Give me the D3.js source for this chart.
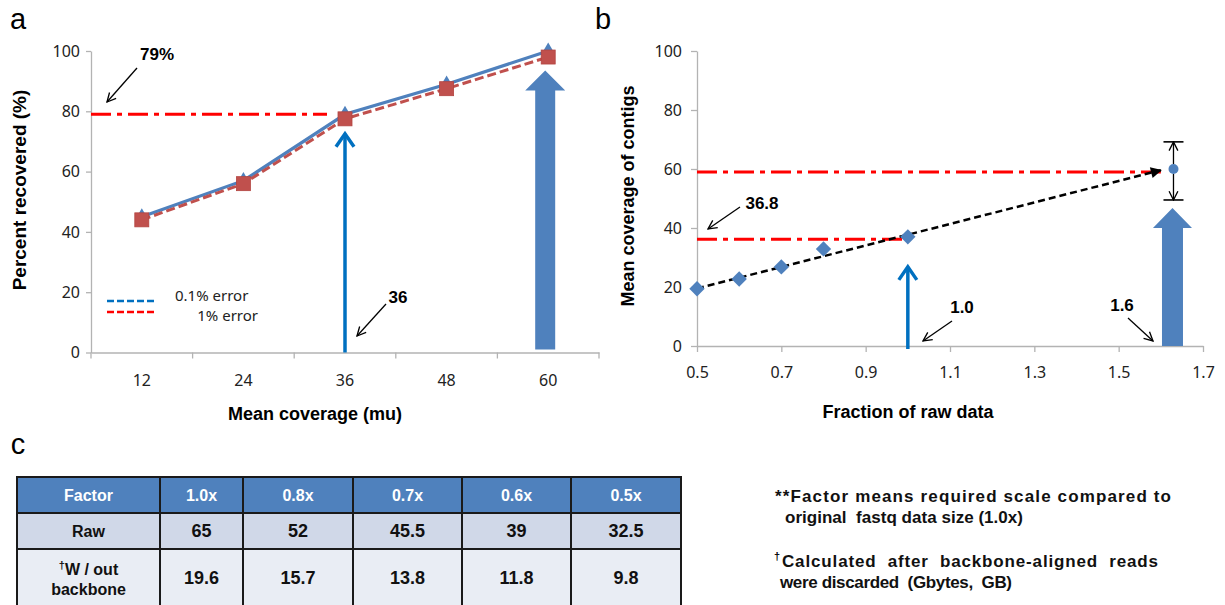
<!DOCTYPE html>
<html>
<head>
<meta charset="utf-8">
<script src="https://cdn.jsdelivr.net/npm/d3@7"></script>
<style>
  body { margin: 0; background: #fff; }
  svg { display: block; font-family: "Liberation Sans", Arial, sans-serif; }
  .tick text { font-family: "Noto Sans", sans-serif; font-size: 16px; fill: #222; }
  .tick line, .domain { stroke: #b3b3b3; stroke-width: 1.3; }
</style>
</head>
<body>
<script>
const width = 1225;
const height = 605;

// panel a
const coverage = [12, 24, 36, 48, 60];
const recovered01 = [45, 57, 79, 89, 100];
const recovered1 = [44, 56, 77.5, 87.5, 98];
const cutA = 79;
const yTicks = [0, 20, 40, 60, 80, 100];

// panel b
const fraction = [0.5, 0.6, 0.7, 0.8, 1.0];
const contigCov = [19.4, 22.7, 26.8, 32.9, 37];
const trendFrom = [0.5, 19.5];
const trendTo = [1.6, 59.6];
const cutB = [36.2, 59];
const projected = [1.63, 60];
const projectedRange = [49.5, 69.2];
const xTicksB = [0.5, 0.7, 0.9, 1.1, 1.3, 1.5, 1.7];

// panel c
const factors = ["1.0x", "0.8x", "0.7x", "0.6x", "0.5x"];
const rawSize = ["65", "52", "45.5", "39", "32.5"];
const noBackbone = ["19.6", "15.7", "13.8", "11.8", "9.8"];

const BLUE = "#4F81BD";
const ARROW_BLUE = "#0070C0";
const RED = "#C0504D";

const svg = d3.select("body").append("svg")
  .attr("width", width)
  .attr("height", height);

const defs = svg.append("defs");
defs.append("marker")
  .attr("id", "open")
  .attr("viewBox", "0 0 10 10")
  .attr("refX", 9).attr("refY", 5)
  .attr("markerWidth", 11).attr("markerHeight", 11)
  .attr("markerUnits", "userSpaceOnUse")
  .attr("orient", "auto-start-reverse")
  .append("path")
  .attr("d", "M1,1 L9,5 L1,9")
  .attr("fill", "none")
  .attr("stroke", "#000")
  .attr("stroke-width", 1.2);
defs.append("marker")
  .attr("id", "solid")
  .attr("viewBox", "0 0 10 10")
  .attr("refX", 9).attr("refY", 5)
  .attr("markerWidth", 13).attr("markerHeight", 11)
  .attr("markerUnits", "userSpaceOnUse")
  .attr("orient", "auto")
  .append("path")
  .attr("d", "M0,0 L10,5 L0,10 Z")
  .attr("fill", "#000");

const label = (x, y, txt, size = 17, weight = "bold") =>
  svg.append("text")
    .attr("x", x).attr("y", y)
    .attr("text-anchor", "middle")
    .attr("dy", "0.35em")
    .attr("font-size", size)
    .attr("font-weight", weight)
    .text(txt);

const pointer = (x1, y1, x2, y2) =>
  svg.append("line")
    .attr("x1", x1).attr("y1", y1).attr("x2", x2).attr("y2", y2)
    .attr("stroke", "#000").attr("stroke-width", 1.3)
    .attr("marker-end", "url(#open)");

// thin arrow with a chevron head
const thinArrow = (x, y0, yTip) => {
  svg.append("line")
    .attr("x1", x).attr("x2", x).attr("y1", y0).attr("y2", yTip + 2)
    .attr("stroke", ARROW_BLUE).attr("stroke-width", 3.5);
  svg.append("path")
    .attr("d", `M${x - 9},${yTip + 15} L${x},${yTip + 2} L${x + 9},${yTip + 15}`)
    .attr("fill", "none").attr("stroke", ARROW_BLUE).attr("stroke-width", 3.5);
};

// block arrow
const fatArrow = (x, y0, yTip, shaft, head, headH) => {
  const s = shaft / 2, h = head / 2, b = yTip + headH;
  svg.append("path")
    .attr("d", `M${x - s},${y0} V${b} H${x - h} L${x},${yTip} L${x + h},${b} H${x + s} V${y0} Z`)
    .attr("fill", BLUE);
};

const dashDot = (x1, x2, y) =>
  svg.append("line")
    .attr("x1", x1).attr("x2", x2).attr("y1", y).attr("y2", y)
    .attr("stroke", "#FF0000").attr("stroke-width", 3)
    .attr("stroke-dasharray", "20,6,5,6");

// ---------- panel a ----------
const xA = d3.scaleBand().domain(coverage).range([91, 599]);
const cxA = (d) => xA(d) + xA.bandwidth() / 2;
const yA = d3.scaleLinear().domain([0, 100]).range([352.5, 51]);

svg.append("g")
  .attr("transform", `translate(${xA.range()[0]},0)`)
  .call(d3.axisLeft(yA).tickValues(yTicks).tickSize(5).tickSizeOuter(0).tickPadding(6));

const axA = svg.append("g")
  .attr("transform", `translate(0,${yA(0)})`)
  .call(d3.axisBottom(xA).tickSize(0).tickSizeOuter(0).tickPadding(22));
axA.selectAll(".bound")
  .data([...coverage.map((d) => xA(d)), xA.range()[1]])
  .join("line")
  .attr("class", "bound")
  .attr("x1", (d) => d).attr("x2", (d) => d)
  .attr("y1", 0).attr("y2", 6)
  .attr("stroke", "#b3b3b3").attr("stroke-width", 1.3);

dashDot(xA.range()[0], cxA(36) - 18, yA(cutA));

const lineA = d3.line().x((d, i) => cxA(coverage[i])).y((d) => yA(d));

svg.append("path")
  .datum(recovered01)
  .attr("d", lineA)
  .attr("fill", "none")
  .attr("stroke", BLUE)
  .attr("stroke-width", 3.2);
svg.selectAll(".tri")
  .data(recovered01)
  .join("path")
  .attr("class", "tri")
  .attr("transform", (d, i) => `translate(${cxA(coverage[i])},${yA(d) - 1})`)
  .attr("d", d3.symbol(d3.symbolTriangle, 75))
  .attr("fill", BLUE);

svg.append("path")
  .datum(recovered1)
  .attr("d", lineA)
  .attr("fill", "none")
  .attr("stroke", RED)
  .attr("stroke-width", 3)
  .attr("stroke-dasharray", "9,4");
svg.selectAll(".sq")
  .data(recovered1)
  .join("rect")
  .attr("class", "sq")
  .attr("x", (d, i) => cxA(coverage[i]) - 7)
  .attr("y", (d) => yA(d) - 7)
  .attr("width", 14).attr("height", 14)
  .attr("fill", RED)
  .attr("stroke", "#B34440").attr("stroke-width", 0.8);

thinArrow(cxA(36), yA(0), yA(73.2));
fatArrow(cxA(60) - 3, yA(0) - 3, yA(93.5), 20, 40, 20);

// legend
const legend = svg.append("g");
[["0.1% error", ARROW_BLUE, 301, 175, "start"], ["1% error", "#FF0000", 312, 258, "end"]]
  .forEach(([t, c, y, tx, anchor], i) => {
    legend.append("line")
      .attr("x1", 107).attr("x2", 157).attr("y1", y).attr("y2", y)
      .attr("stroke", c).attr("stroke-width", 2.5)
      .attr("stroke-dasharray", "7,3");
    legend.append("text")
      .attr("x", tx).attr("y", 296 + i * 20)
      .attr("dy", "0.35em")
      .attr("text-anchor", anchor)
      .attr("font-family", "Noto Sans, sans-serif")
      .attr("font-size", 15)
      .attr("fill", "#222")
      .text(t);
  });

label(157, 54, "79%");
pointer(137, 68, 107, 102);
label(398, 297, "36");
pointer(386, 304, 357, 336);

svg.append("text")
  .attr("transform", "translate(19,190) rotate(-90)")
  .attr("text-anchor", "middle").attr("dy", "0.35em")
  .attr("font-size", 19).attr("font-weight", "bold")
  .text("Percent recovered (%)");
label(315, 414, "Mean coverage (mu)", 18);

// ---------- panel b ----------
const xB = d3.scaleLinear().domain([0.5, 1.7]).range([697, 1203]);
const yB = d3.scaleLinear().domain([0, 100]).range([346, 51]);

svg.append("g")
  .attr("transform", `translate(${xB.range()[0]},0)`)
  .call(d3.axisLeft(yB).tickValues(yTicks).tickSize(6).tickSizeOuter(0).tickPadding(9));
svg.append("g")
  .attr("transform", `translate(0,${yB(0)})`)
  .call(d3.axisBottom(xB).tickValues(xTicksB).tickFormat(d3.format(".1f"))
    .tickSize(6).tickSizeOuter(0).tickPadding(15));

cutB.forEach((v, i) => {
  dashDot(xB.range()[0], i === 0 ? xB(0.99) : xB(trendTo[0]), yB(v));
});

svg.append("line")
  .attr("x1", xB(trendFrom[0])).attr("y1", yB(trendFrom[1]))
  .attr("x2", xB(trendTo[0])).attr("y2", yB(trendTo[1]))
  .attr("stroke", "#000").attr("stroke-width", 2.5)
  .attr("stroke-dasharray", "7,4")
  .attr("marker-end", "url(#solid)");

svg.selectAll(".dia")
  .data(contigCov)
  .join("path")
  .attr("class", "dia")
  .attr("transform", (d, i) => `translate(${xB(fraction[i])},${yB(d)})`)
  .attr("d", d3.symbol(d3.symbolDiamond2, 150))
  .attr("fill", BLUE);

// projected point with its range
const px = xB(projected[0]);
svg.append("line")
  .attr("x1", px).attr("x2", px)
  .attr("y1", yB(projected[1]) + 5).attr("y2", yB(projectedRange[0]))
  .attr("stroke", "#000").attr("stroke-width", 1.3)
  .attr("marker-end", "url(#open)");
svg.append("line")
  .attr("x1", px).attr("x2", px)
  .attr("y1", yB(projected[1]) - 5).attr("y2", yB(projectedRange[1]))
  .attr("stroke", "#000").attr("stroke-width", 1.3)
  .attr("marker-end", "url(#open)");
projectedRange.forEach((v) => {
  svg.append("line")
    .attr("x1", px - 10).attr("x2", px + 10)
    .attr("y1", yB(v)).attr("y2", yB(v))
    .attr("stroke", "#000").attr("stroke-width", 1.6);
});
svg.append("circle")
  .attr("cx", px).attr("cy", yB(projected[1]))
  .attr("r", 5).attr("fill", BLUE);

thinArrow(xB(1.0), yB(0) + 3, yB(27.5));
fatArrow(px - 1, yB(0), yB(46.8), 21, 39, 20);

label(762, 203, "36.8");
pointer(740, 207, 708, 229);
label(962, 307, "1.0");
pointer(952, 321, 923, 341);
label(1122, 305, "1.6");
pointer(1128, 318, 1153, 341);

svg.append("text")
  .attr("transform", "translate(628,196) rotate(-90)")
  .attr("text-anchor", "middle").attr("dy", "0.35em")
  .attr("font-size", 18).attr("font-weight", "bold")
  .text("Mean coverage of contigs");
label(908, 412, "Fraction of raw data", 18);

// panel letters
label(18, 19, "a", 29, "normal");
label(603, 19, "b", 29, "normal");
label(18, 444, "c", 29, "normal");

// ---------- panel c ----------
const colEdges = [17, 160, 243, 353, 462, 571, 681];
const rowEdges = [477, 513, 549, 612];
const rowFill = [BLUE, "#D0D8E8", "#E9EDF4"];
const rows = [["Factor", ...factors], ["Raw", ...rawSize], ["", ...noBackbone]];

const table = svg.append("g");
rows.forEach((row, r) => {
  row.forEach((cell, c) => {
    const x0 = colEdges[c], x1 = colEdges[c + 1];
    const y0 = rowEdges[r], y1 = rowEdges[r + 1];
    table.append("rect")
      .attr("x", x0).attr("y", y0)
      .attr("width", x1 - x0).attr("height", y1 - y0)
      .attr("fill", rowFill[r])
      .attr("stroke", "#1a1a1a").attr("stroke-width", 2);
    if (cell === "") return;
    table.append("text")
      .attr("x", (x0 + x1) / 2)
      .attr("y", r === 2 ? 578 : (y0 + y1) / 2)
      .attr("text-anchor", "middle").attr("dy", "0.35em")
      .attr("font-size", r === 0 ? 16 : c === 0 ? 16 : 18)
      .attr("font-weight", "bold")
      .attr("fill", r === 0 ? "#fff" : "#111")
      .text(cell);
  });
});
const wo = table.append("text")
  .attr("x", (colEdges[0] + colEdges[1]) / 2)
  .attr("text-anchor", "middle")
  .attr("font-size", 16).attr("font-weight", "bold").attr("fill", "#111");
wo.append("tspan").attr("x", (colEdges[0] + colEdges[1]) / 2).attr("y", 575)
  .text("\u2020").attr("font-size", 11).attr("dy", "-6");
wo.append("tspan").attr("dy", "6").text("W / out");
wo.append("tspan").attr("x", (colEdges[0] + colEdges[1]) / 2).attr("y", 595).text("backbone");

// notes
const notes = [
  ["**Factor means required scale compared to", 775, 502, 396],
  ["original  fastq data size (1.0x)", 785, 523, 238],
  ["Calculated  after  backbone-aligned  reads", 782, 567, 376],
  ["were discarded  (Gbytes,  GB)", 780, 588, 232],
];
notes.forEach(([t, x, y, w]) => {
  svg.append("text")
    .attr("x", x).attr("y", y)
    .attr("font-size", 17).attr("font-weight", "bold")
    .attr("fill", "#111")
    .attr("textLength", w)
    .attr("lengthAdjust", "spacing")
    .style("white-space", "pre")
    .text(t);
});
svg.append("text")
  .attr("x", 774).attr("y", 560)
  .attr("font-size", 11).attr("font-weight", "bold")
  .text("\u2020");
</script>
</body>
</html>
